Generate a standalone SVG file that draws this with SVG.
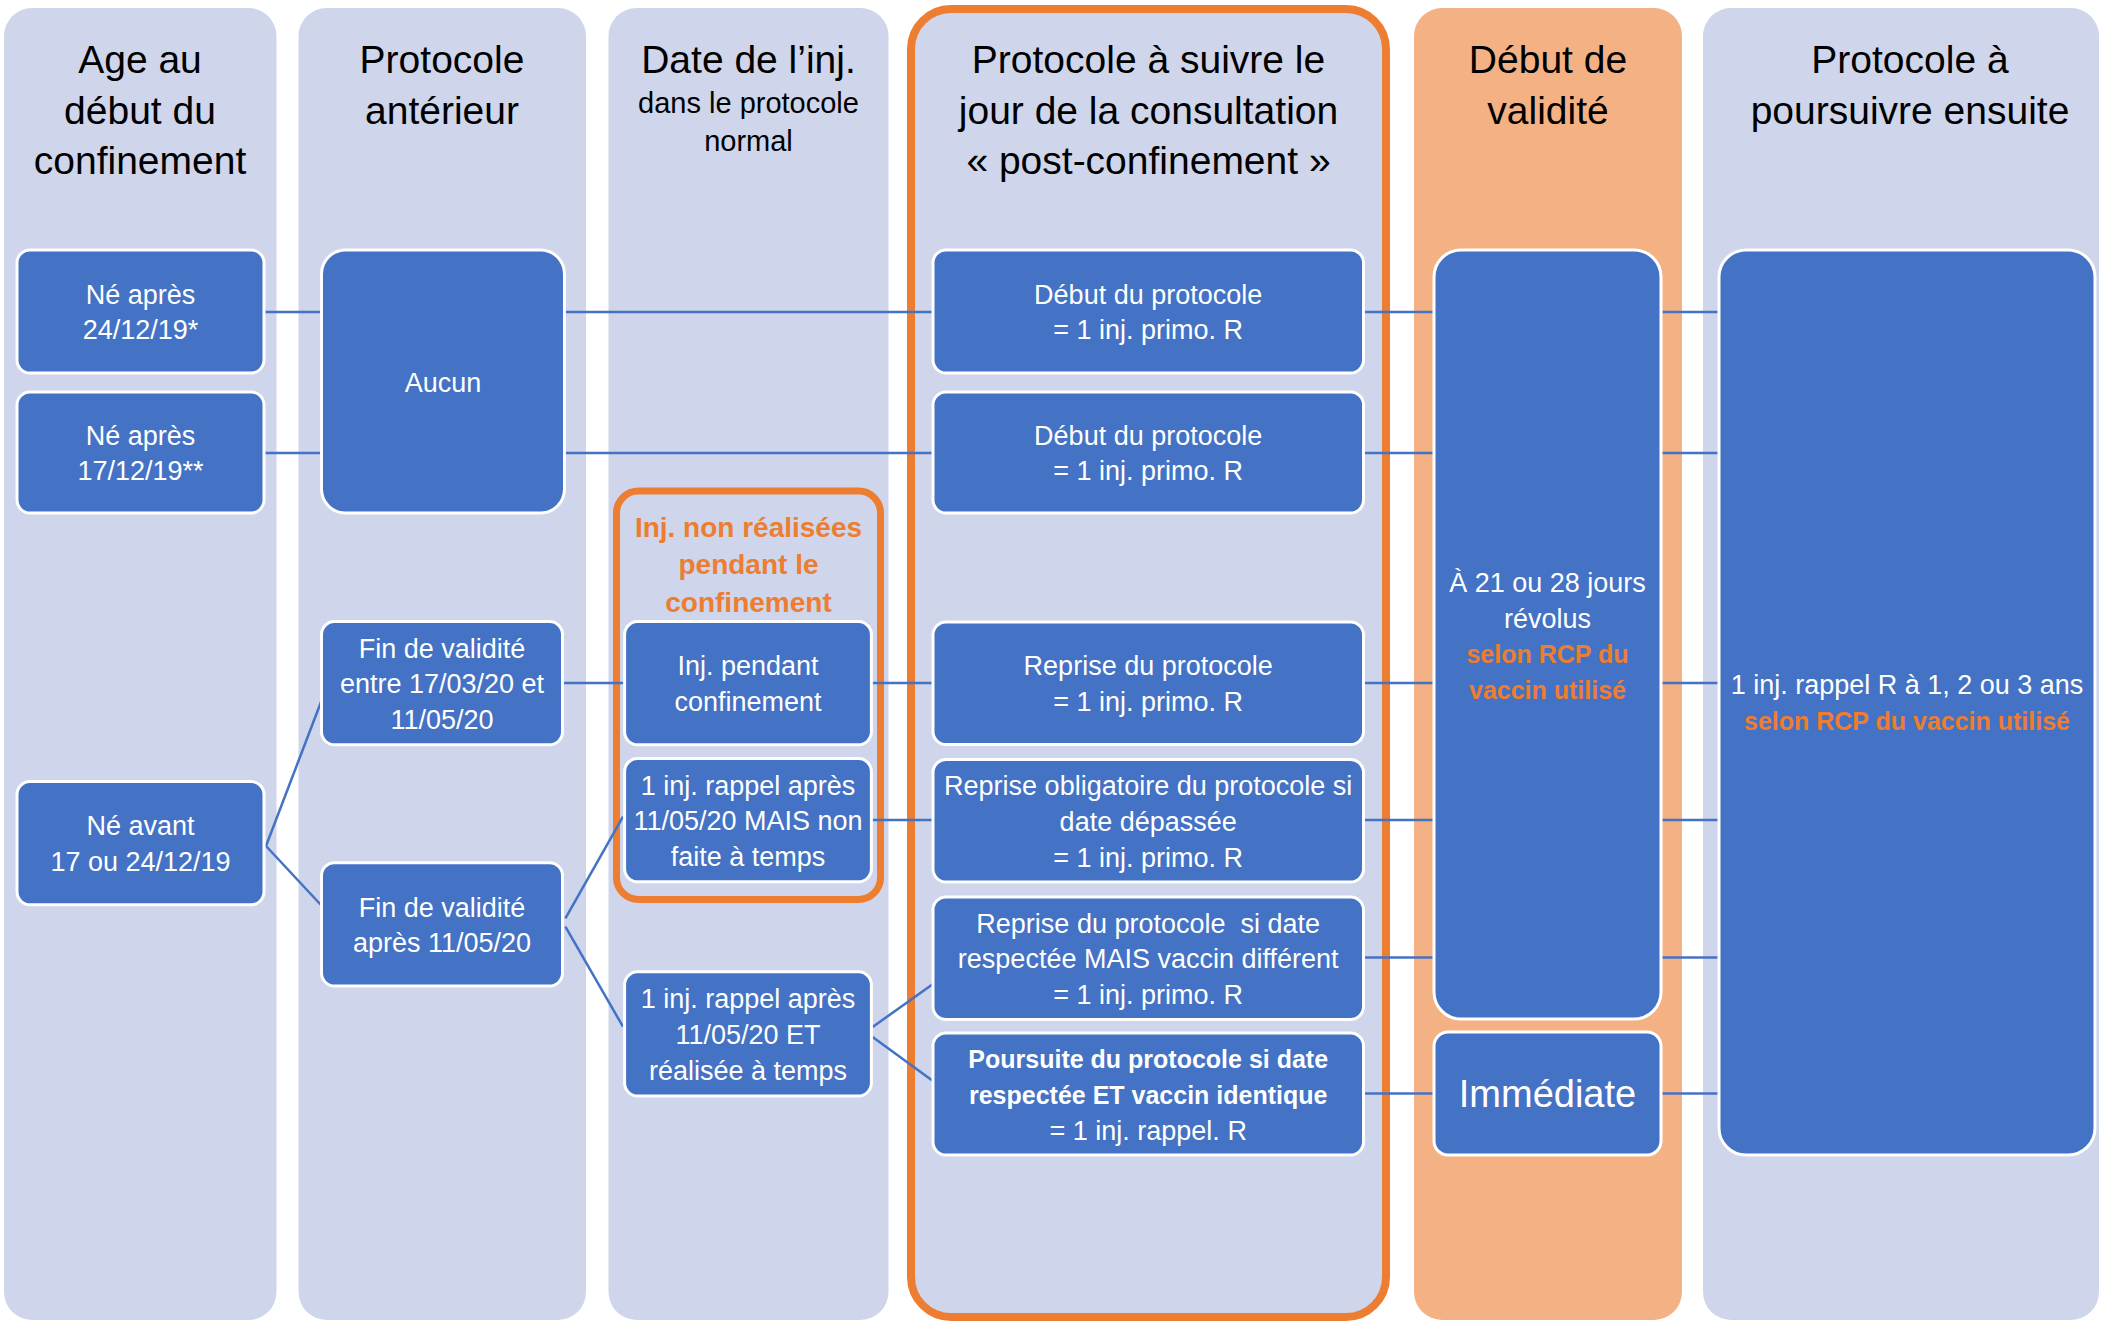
<svg xmlns="http://www.w3.org/2000/svg" width="2101" height="1321" viewBox="0 0 2101 1321">
<style>
.lane{fill:#CFD5EA}
.lane-o{fill:#F4B183}
.hdr{font-family:"Liberation Sans",Arial,sans-serif;font-size:39px;fill:#000;text-anchor:middle}
.sub{font-size:29px}
.node{fill:#4472C4;stroke:#fff;stroke-width:3}
.t{font-family:"Liberation Sans",Arial,sans-serif;font-size:27px;fill:#fff;text-anchor:middle}
.b{font-weight:bold;font-size:25px}
.or{fill:#ED7D31}
.big{font-size:38px}
.conn line{stroke:#4472C4;stroke-width:2.5}
</style>
<rect width="2101" height="1321" fill="#fff"/>
<g id="lanes">
  <g id="lane-age"><rect class="lane" x="4" y="8" width="272.5" height="1312" rx="28"/>
    <text class="hdr"><tspan x="140" y="72.7">Age au</tspan><tspan x="140" y="123.5">début du</tspan><tspan x="140" y="174.3">confinement</tspan></text></g>
  <g id="lane-anterieur"><rect class="lane" x="298.5" y="8" width="287.5" height="1312" rx="28"/>
    <text class="hdr"><tspan x="442" y="72.7">Protocole</tspan><tspan x="442" y="123.5">antérieur</tspan></text></g>
  <g id="lane-date"><rect class="lane" x="608.5" y="8" width="280" height="1312" rx="28"/>
    <text class="hdr"><tspan x="748.5" y="72.7">Date de l’inj.</tspan><tspan class="sub" x="748.5" y="113.3">dans le protocole</tspan><tspan class="sub" x="748.5" y="150.7">normal</tspan></text></g>
  <g id="lane-consultation"><rect class="lane" x="911" y="9" width="475" height="1308" rx="40" stroke="#ED7D31" stroke-width="8"/>
    <text class="hdr"><tspan x="1148.5" y="72.7">Protocole à suivre le</tspan><tspan x="1148.5" y="123.5">jour de la consultation</tspan><tspan x="1148.5" y="174.3">« post-confinement »</tspan></text></g>
  <g id="lane-validite"><rect class="lane-o" x="1414" y="8" width="268" height="1312" rx="28"/>
    <text class="hdr"><tspan x="1548" y="72.7">Début de</tspan><tspan x="1548" y="123.5">validité</tspan></text></g>
  <g id="lane-ensuite"><rect class="lane" x="1703" y="8" width="396" height="1312" rx="28"/>
    <text class="hdr"><tspan x="1910" y="72.7">Protocole à</tspan><tspan x="1910" y="123.5">poursuivre ensuite</tspan></text></g>
</g>
<g id="group-non-realisees">
  <rect x="616.5" y="491" width="264" height="408.5" rx="22" fill="none" stroke="#ED7D31" stroke-width="7"/>
  <text class="t b or" style="font-size:28px"><tspan x="748.5" y="536.6">Inj. non réalisées</tspan><tspan x="748.5" y="573.8">pendant le</tspan><tspan x="748.5" y="612">confinement</tspan></text>
</g>
<g id="connectors" class="conn">
  <line x1="264" y1="312" x2="321.5" y2="312"/>
  <line x1="564.5" y1="312" x2="933" y2="312"/>
  <line x1="1363.5" y1="312" x2="1434" y2="312"/>
  <line x1="1661" y1="312" x2="1719" y2="312"/>
  <line x1="264" y1="453" x2="321.5" y2="453"/>
  <line x1="564.5" y1="453" x2="933" y2="453"/>
  <line x1="1363.5" y1="453" x2="1434" y2="453"/>
  <line x1="1661" y1="453" x2="1719" y2="453"/>
  <line x1="562.5" y1="683" x2="624.6" y2="683"/>
  <line x1="871.4" y1="683" x2="933" y2="683"/>
  <line x1="1363.5" y1="683" x2="1434" y2="683"/>
  <line x1="1661" y1="683" x2="1719" y2="683"/>
  <line x1="871.4" y1="820" x2="933" y2="820"/>
  <line x1="1363.5" y1="820" x2="1434" y2="820"/>
  <line x1="1661" y1="820" x2="1719" y2="820"/>
  <line x1="1363.5" y1="957.5" x2="1434" y2="957.5"/>
  <line x1="1661" y1="957.5" x2="1719" y2="957.5"/>
  <line x1="1363.5" y1="1093.5" x2="1434" y2="1093.5"/>
  <line x1="1661" y1="1093.5" x2="1719" y2="1093.5"/>
  <line x1="266" y1="846" x2="321" y2="702"/>
  <line x1="266" y1="846" x2="321" y2="905"/>
  <line x1="565.4" y1="918.3" x2="623" y2="816.7"/>
  <line x1="565.4" y1="926.7" x2="623" y2="1026.7"/>
  <line x1="872.6" y1="1027" x2="933" y2="984"/>
  <line x1="872.6" y1="1037" x2="933" y2="1081"/>
</g>
<g id="n-ne-apres-24"><rect class="node" x="17" y="250" width="247" height="123" rx="13"/>
  <text class="t"><tspan x="140.5" y="303.6">Né après</tspan><tspan x="140.5" y="339.3">24/12/19*</tspan></text></g>
<g id="n-ne-apres-17"><rect class="node" x="17" y="392" width="247" height="121" rx="13"/>
  <text class="t"><tspan x="140.5" y="444.6">Né après</tspan><tspan x="140.5" y="480.3">17/12/19**</tspan></text></g>
<g id="n-ne-avant"><rect class="node" x="17" y="781.6" width="247" height="123.2" rx="13"/>
  <text class="t"><tspan x="140.5" y="835.3">Né avant</tspan><tspan x="140.5" y="871">17 ou 24/12/19</tspan></text></g>
<g id="n-aucun"><rect class="node" x="321.5" y="250" width="243" height="263" rx="24"/>
  <text class="t" x="443" y="391.5">Aucun</text></g>
<g id="n-fin-entre"><rect class="node" x="321.5" y="621.6" width="241" height="123.2" rx="13"/>
  <text class="t"><tspan x="442" y="657.5">Fin de validité</tspan><tspan x="442" y="693.2">entre 17/03/20 et</tspan><tspan x="442" y="728.9">11/05/20</tspan></text></g>
<g id="n-fin-apres"><rect class="node" x="321.5" y="862.7" width="241" height="123.3" rx="13"/>
  <text class="t"><tspan x="442" y="916.5">Fin de validité</tspan><tspan x="442" y="952.2">après 11/05/20</tspan></text></g>
<g id="n-inj-pendant"><rect class="node" x="624.6" y="621.6" width="246.8" height="123.2" rx="13"/>
  <text class="t"><tspan x="748" y="675.4">Inj. pendant</tspan><tspan x="748" y="711.1">confinement</tspan></text></g>
<g id="n-rappel-mais"><rect class="node" x="624.6" y="758.6" width="246.8" height="123.2" rx="13"/>
  <text class="t"><tspan x="748" y="794.5">1 inj. rappel après</tspan><tspan x="748" y="830.2">11/05/20 MAIS non</tspan><tspan x="748" y="865.9">faite à temps</tspan></text></g>
<g id="n-rappel-et"><rect class="node" x="624.6" y="971.8" width="246.8" height="124.2" rx="13"/>
  <text class="t"><tspan x="748" y="1008.2">1 inj. rappel après</tspan><tspan x="748" y="1043.9">11/05/20 ET</tspan><tspan x="748" y="1079.6">réalisée à temps</tspan></text></g>
<g id="n-debut-1"><rect class="node" x="933" y="250" width="430.5" height="123" rx="13"/>
  <text class="t"><tspan x="1148.2" y="303.6">Début du protocole</tspan><tspan x="1148.2" y="339.3">= 1 inj. primo. R</tspan></text></g>
<g id="n-debut-2"><rect class="node" x="933" y="392" width="430.5" height="121" rx="13"/>
  <text class="t"><tspan x="1148.2" y="444.6">Début du protocole</tspan><tspan x="1148.2" y="480.3">= 1 inj. primo. R</tspan></text></g>
<g id="n-reprise"><rect class="node" x="933" y="622" width="430.5" height="122.6" rx="13"/>
  <text class="t"><tspan x="1148.2" y="675.4">Reprise du protocole</tspan><tspan x="1148.2" y="711.1">= 1 inj. primo. R</tspan></text></g>
<g id="n-reprise-oblig"><rect class="node" x="933" y="759.6" width="430.5" height="122.4" rx="13"/>
  <text class="t"><tspan x="1148.2" y="795.1">Reprise obligatoire du protocole si</tspan><tspan x="1148.2" y="830.8">date dépassée</tspan><tspan x="1148.2" y="866.5">= 1 inj. primo. R</tspan></text></g>
<g id="n-reprise-diff"><rect class="node" x="933" y="897" width="430.5" height="122.6" rx="13"/>
  <text class="t" xml:space="preserve"><tspan x="1148.2" y="932.6">Reprise du protocole  si date</tspan><tspan x="1148.2" y="968.3">respectée MAIS vaccin différent</tspan><tspan x="1148.2" y="1004">= 1 inj. primo. R</tspan></text></g>
<g id="n-poursuite"><rect class="node" x="933" y="1033" width="430.5" height="122" rx="13"/>
  <text class="t"><tspan class="b" x="1148.2" y="1068.3">Poursuite du protocole si date</tspan><tspan class="b" x="1148.2" y="1104">respectée ET vaccin identique</tspan><tspan x="1148.2" y="1139.7">= 1 inj. rappel. R</tspan></text></g>
<g id="n-validite-21-28"><rect class="node" x="1434" y="250" width="227" height="769" rx="27"/>
  <text class="t"><tspan x="1547.5" y="592">À 21 ou 28 jours</tspan><tspan x="1547.5" y="627.6">révolus</tspan><tspan class="b or" x="1547.5" y="663.3">selon RCP du</tspan><tspan class="b or" x="1547.5" y="699">vaccin utilisé</tspan></text></g>
<g id="n-immediate"><rect class="node" x="1434" y="1032" width="227" height="123" rx="14"/>
  <text class="t big" x="1547.5" y="1107">Immédiate</text></g>
<g id="n-rappel-ensuite"><rect class="node" x="1719" y="250" width="376" height="905" rx="27"/>
  <text class="t"><tspan x="1907" y="694.4">1 inj. rappel R à 1, 2 ou 3 ans</tspan><tspan class="b or" x="1907" y="730.1">selon RCP du vaccin utilisé</tspan></text></g>
</svg>
